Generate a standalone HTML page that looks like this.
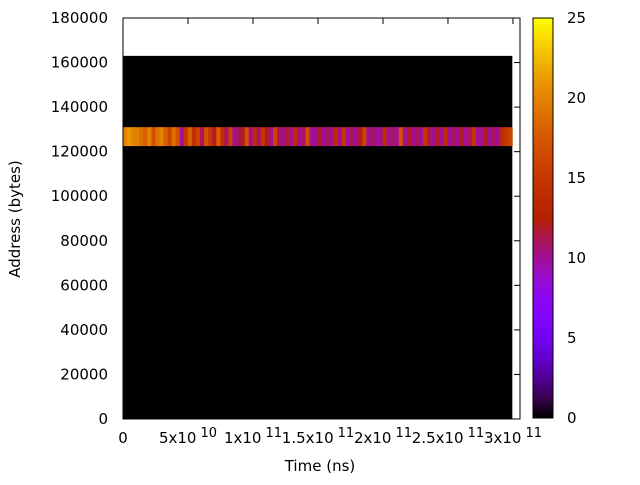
<!DOCTYPE html>
<html><head><meta charset="utf-8"><style>
body{margin:0;background:#fff}
svg text{font-family:"DejaVu Sans","Liberation Sans",sans-serif;font-size:15px;fill:#000}
</style></head><body>
<svg id="c" width="640" height="480">
<rect x="0" y="0" width="640" height="480" fill="#fff"/>
<g id="marks"></g>
<g id="axes"></g>
<defs><linearGradient id="cbg" x1="0" y1="1" x2="0" y2="0"></linearGradient></defs>
<rect x="533" y="18" width="20" height="400" fill="url(#cbg)" stroke="#000" stroke-width="1"/>
<text x="20" y="219" text-anchor="middle" transform="rotate(-90 20 219)">Address (bytes)</text>
<text x="320" y="471" text-anchor="middle">Time (ns)</text>
</svg>
<script>
const xMax = 3.054e11, yMax = 180000;
const blockStart = 0, blockEnd = 2.995e11, blockLow = 0, blockHigh = 163000;
const bandLow = 122500, bandHigh = 131000;
const bandValues = [20,21,20,20,19,18,20,17,19,20,18,16,19,17,10,15,18,14,16,11,17,15,12,18,14,11,16,10,11,12,17,10,14,11,15,12,10,16,11,10,12,10,14,10,11,17,10,10,12,10,11,10,14,10,15,10,11,10,12,16,10,11,10,10,14,10,11,10,17,10,12,10,11,10,15,11,10,12,10,14,10,11,10,12,10,11,15,10,10,12,10,11,10,14,15,16];
const xTicks = [0,5e10,1e11,1.5e11,2e11,2.5e11,3e11];
const xTickLabels = [["0",""],["5x10","10"],["1x10","11"],["1.5x10","11"],["2x10","11"],["2.5x10","11"],["3x10","11"]];
const yTicks = [0,20000,40000,60000,80000,100000,120000,140000,160000,180000];
const cbTicks = [0,5,10,15,20,25];
const cbMax = 25;
const L=123,R=520,T=18,B=419;
const X=v=>L+(R-L)*v/xMax, Y=v=>B-(B-T)*v/yMax;
function pal(t){t=Math.max(0,Math.min(1,t));const r=Math.sqrt(t),g=t*t*t,b=Math.max(0,Math.sin(2*Math.PI*t));return `rgb(${Math.round(r*255)},${Math.round(g*255)},${Math.round(b*255)})`;}
const NS="http://www.w3.org/2000/svg";
function mk(tag,attrs,parent){const e=document.createElementNS(NS,tag);for(const k in attrs)e.setAttribute(k,attrs[k]);parent.appendChild(e);return e;}
const marks=document.getElementById('marks'), axes=document.getElementById('axes');
const bg=mk('rect',{x:X(blockStart),y:Y(blockHigh),width:X(blockEnd)-X(blockStart),height:Y(blockLow)-Y(blockHigh),fill:'#000'},marks);


const n=bandValues.length, dt=(blockEnd-blockStart)/n;
bandValues.forEach((v,i)=>{
  const x0=X(blockStart+i*dt), x1=X(blockStart+(i+1)*dt);
  const c=mk('rect',{x:x0,y:Y(bandHigh),width:x1-x0+0.4,height:Y(bandLow)-Y(bandHigh),fill:pal(v/cbMax)},marks);
  
  
});
const fr=mk('rect',{x:L,y:T,width:R-L,height:B-T,fill:'none',stroke:'#000','stroke-width':1},axes);


yTicks.forEach(v=>{
  const t=mk('text',{x:L-15,y:Y(v)+5,'text-anchor':'end'},axes);t.textContent=v;
  
  
  mk('line',{x1:R,x2:R-6,y1:Y(v),y2:Y(v),stroke:'#000'},axes);
});
xTicks.forEach((v,i)=>{
  const t=mk('text',{x:X(v),y:443,'text-anchor':'middle'},axes);
  
  
  const a=document.createElementNS(NS,'tspan');a.textContent=xTickLabels[i][0];t.appendChild(a);
  if(xTickLabels[i][1]){const s=document.createElementNS(NS,'tspan');s.setAttribute('dy','-6');s.setAttribute('dx','4');s.setAttribute('font-size','13');s.textContent=xTickLabels[i][1];t.appendChild(s);}
  mk('line',{x1:X(v),x2:X(v),y1:T,y2:T+6,stroke:'#000'},axes);
});
const g=document.getElementById('cbg');
for(let i=0;i<=20;i++){mk('stop',{offset:i/20,'stop-color':pal(i/20)},g);}
cbTicks.forEach(v=>{
  const y=418-400*v/cbMax;
  const t=mk('text',{x:567,y:y+5},axes);t.textContent=v;
  
  
  mk('line',{x1:553,x2:548,y1:y,y2:y,stroke:'#000'},axes);
  mk('line',{x1:533,x2:538,y1:y,y2:y,stroke:'#000'},axes);
});
</script>
</body></html>
